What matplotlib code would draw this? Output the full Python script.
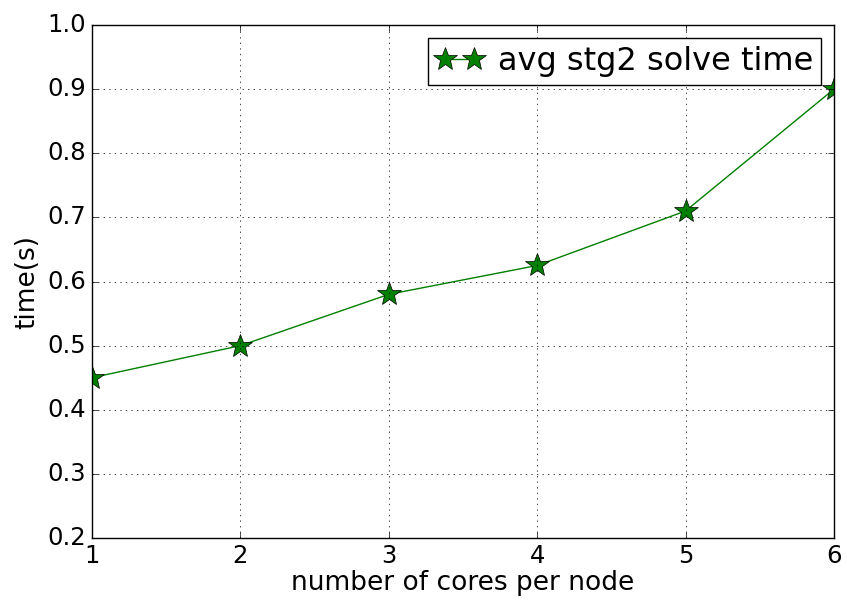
import matplotlib
matplotlib.use('Agg')
import matplotlib.pyplot as plt

cores = [1, 2, 3, 4, 5, 6]
solve_time = [0.45, 0.50, 0.58, 0.625, 0.71, 0.90]

plt.style.use('classic')
fig = plt.figure(figsize=(8.47, 6.0), dpi=100)
ax = fig.add_axes([0.1086, 0.1033, 0.876, 0.855])

ax.plot(cores, solve_time, color='green', marker='*', markersize=18,
        markeredgecolor='black', label='avg stg2 solve time')
ax.set_xlim(1, 6)
ax.set_ylim(0.2, 1.0)
ax.grid(True)
ax.tick_params(labelsize=17.5)
ax.set_xlabel('number of cores per node', fontsize=19, labelpad=2)
ax.set_ylabel('time(s)', fontsize=19)
ax.legend(loc='upper right', numpoints=2, fontsize=23, handlelength=1.5,
          handletextpad=0.45, borderpad=0.25, borderaxespad=0.4)

fig.savefig('out.png', dpi=100)
